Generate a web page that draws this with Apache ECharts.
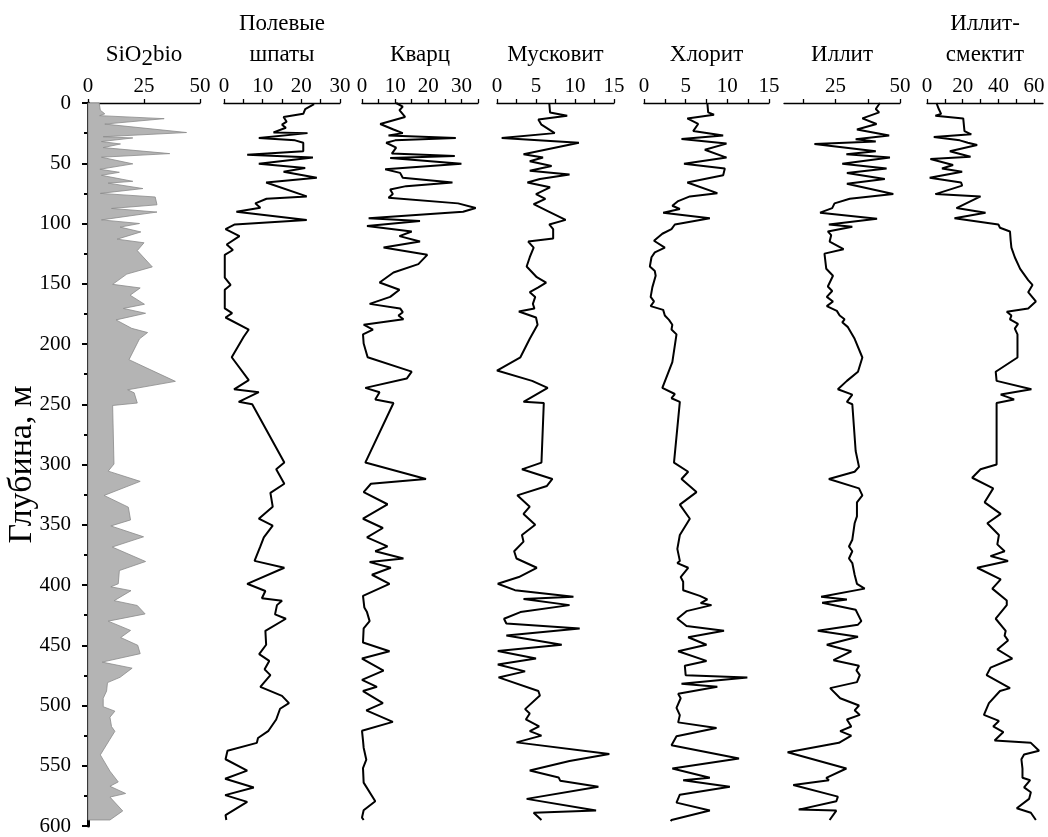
<!DOCTYPE html>
<html>
<head>
<meta charset="utf-8">
<script src="https://cdn.jsdelivr.net/npm/echarts@6/dist/echarts.min.js"></script>
<style>
  html, body { margin: 0; padding: 0; background: #fff; }
  #chart { width: 1048px; height: 837px; }
</style>
</head>
<body>
<div id="chart"></div>
<script>
// Well log: content of components vs depth, m. Each point is [value, depth].
const sio2bio = [[5,0],[5.5,6],[7.5,9],[5.2,10.5],[34,13],[7.5,17.5],[44,24.5],[6.8,28],[20,29],[6,32],[14.5,34],[6.8,37],[36.5,42],[6,45],[20,50.5],[5.3,55],[14,57.5],[6,60],[20,65],[9,66.5],[24.5,71],[5.5,75],[30,78],[30.8,84.5],[10.5,87.5],[30.8,90.5],[6,97],[23,100],[14.3,103],[23.6,107],[13,113],[25,116],[22,122.5],[28.7,136],[17.3,142],[11,150.5],[23.3,153.5],[18.8,159.5],[25.2,167],[15.8,170.5],[25.7,174.5],[12.5,180],[19.5,187],[26.6,190.5],[23,195.7],[18.3,213],[26.3,220],[39,231],[17.7,238],[20.6,240.5],[22,249],[11,251],[11.6,299.6],[9,305.5],[23.3,314],[7.2,325.7],[18,335.4],[19,346],[10.2,351],[24.8,360],[10.8,368.5],[25.7,380.5],[14,388],[13.5,399],[10.2,401.5],[19.2,404.7],[11.7,413],[22,417],[25.5,424],[9,430],[19,437.7],[14.6,443.6],[22.2,450],[23.3,457],[6.3,464],[19.7,469],[14.3,476.6],[8.7,481],[8.3,488],[6.8,494],[6.8,501],[12,504.7],[9.8,509.7],[10.5,517.5],[12,521.4],[9.8,528],[5.5,541],[9.8,554.5],[13.5,563.4],[9.8,567],[16.8,573],[9.8,576],[15.5,587.5],[9.8,595]];

const feldspar = [[23.3,1],[21,5],[20.5,9],[15.4,11.6],[16.2,15.5],[15,18],[16,20.5],[12.8,24.4],[21.6,25],[9,29],[18.4,31],[20.5,33],[20.5,40],[6,43],[23,45.3],[9,50.4],[21,54],[15.4,57],[24,62],[10.9,66],[21.4,77.5],[11,79.5],[8.1,83.3],[9.4,87],[3.2,90.3],[21.4,97],[2.8,100.8],[0.4,104.6],[4,110.5],[0.7,117.4],[2.3,122],[0.2,126],[0.2,145],[1.7,151],[0.2,155],[0.2,170.5],[2.1,174.4],[0.4,178],[6.4,188],[5.1,194],[2,211],[6.4,230],[2.6,237.6],[9,240],[3.8,248],[7.3,250],[15.6,298.4],[13.5,304],[15.6,316],[12,323.6],[12.6,335],[9,345],[12.6,350.8],[10.3,360.5],[9.4,368],[7.9,380],[15.6,385.7],[6,399],[10.7,405],[9.8,411],[15,413],[13.7,416.7],[13.2,424.4],[16,428],[10.7,438],[10.9,449.6],[9.1,457.4],[11.7,463],[10.5,470],[12,474.8],[9.4,484.5],[15,492],[16.8,498],[14.5,502.7],[13.5,511.6],[11.5,521],[8.8,527],[8.5,531],[0.9,537.6],[0.4,544.6],[6,554],[0.3,560.8],[7.7,568],[0.3,574.4],[6,580],[0.4,591],[0.6,595]];

const quartz = [[10.3,0],[12.3,3],[11.3,6],[13,11.6],[5.5,17.4],[9.5,22],[12.3,25],[8,27],[28.3,29],[10,31],[7.3,33],[10.3,37],[9,42],[28,44],[8.5,45.7],[30,50.4],[7,55],[11.5,58],[12.3,62],[27.3,66],[13.3,69],[8.5,71.7],[9.3,75.6],[8,78.7],[29,83.3],[34.3,87.2],[30.5,90.3],[2,95.7],[17.5,98],[1.5,102],[15,106.6],[11.3,110.5],[17.5,115],[6.5,120],[19.7,126],[17,133.7],[9.5,140.7],[5.3,149],[11.3,155],[8.5,160.9],[2.3,166.7],[11.5,170.5],[12.3,173.6],[11,176.4],[12.5,179.5],[0.5,184],[3.3,188],[0.3,192],[0.5,199.6],[1.7,211],[15,222.9],[13.5,228.7],[1,236.4],[5.3,240],[4,246],[9.5,249],[1,298.4],[19.3,312],[2.7,316],[0.5,322.9],[7.7,333],[0.3,345],[6.3,352.7],[1.5,360.5],[7.7,368],[4,372],[12.5,378],[2.3,381],[8.7,385.7],[3,391.5],[8.3,399],[0.3,409],[0.7,418.6],[1.5,422.5],[2.3,430],[0.5,436],[0.3,447.7],[8.3,455],[0,461],[6.5,471],[0,478.7],[4.5,484.5],[0.3,488],[6.3,498],[1.3,504],[9.3,513.6],[0,521],[0.3,529],[0.5,535],[1.3,545],[0.3,552],[0.5,564],[4,579.5],[0.5,587],[0,593],[0.5,595]];

const muscovite = [[6.7,0],[6.8,7.8],[9,10.5],[5.3,13.6],[5.7,18],[7.4,25],[0.6,29],[10.5,33],[3.4,42.6],[5.9,45.3],[4.2,48.4],[7,52.3],[4.2,56.2],[9.3,59.3],[5.5,63],[3.9,66],[6.8,70],[5,75.6],[6.2,79.5],[4.7,84],[6.7,90.3],[8.8,97],[6.7,100.8],[7.2,104.6],[7.2,112.4],[4,115],[4.7,120],[4.2,128],[3.8,135.7],[5.1,144.6],[6.3,149],[5.3,153],[4.2,157],[4.9,160.9],[4.6,166.7],[4.8,170.5],[2.8,173],[5,178],[5.2,184],[4.2,195.7],[3,211],[0,222],[4.5,230.6],[6.5,236.4],[3.4,248],[6,249],[5.7,298.4],[3.2,304],[7.1,312],[6.4,317.8],[2.6,325.6],[4.2,335],[3.4,341],[4.9,350],[3.2,358.5],[3.4,364],[2.2,372],[2.5,378],[5.1,385.7],[2.8,393.4],[0.1,399],[2.3,404.3],[9.8,409.7],[3.4,411.6],[9.3,416.7],[3,422.5],[0.9,428],[1.2,432],[10.6,436],[1.2,442],[8.3,449.6],[0.1,454.7],[5,461],[0.1,466],[3.6,471.7],[0.2,476.7],[5.3,488],[5.5,491.7],[3.6,503],[4.2,506.6],[3.7,511.6],[5.4,517.4],[4.2,521.3],[5.7,525],[2.5,530.6],[14.4,540.3],[9.3,546],[4.2,554],[7.9,559.7],[8.1,562.4],[13,567.4],[3.8,577.5],[12.7,587.2],[4.7,589],[5.7,595]];

const chlorite = [[7.6,0],[7.7,7.8],[8.4,9.7],[5.2,12.8],[6.5,17.4],[5.9,23.3],[9.5,27],[4.5,29.8],[9.9,33.7],[7.3,38.8],[9.9,45.3],[4.8,50.4],[9.7,54.3],[9.5,60],[5.2,66],[8.8,74.8],[5.5,77.5],[4.1,81.4],[3.4,85.3],[4.3,88],[2.3,91],[7.9,95.7],[3.7,100.8],[3.3,104.6],[2.2,108.5],[1.2,114.3],[2.5,120],[1.3,124],[0.9,128],[0.7,135.7],[1.3,139.5],[1.4,143.4],[1,153],[0.8,160.9],[1.2,164.7],[0.8,168.6],[2.3,171.7],[2.5,176.4],[3,180],[3.4,184],[3.3,188],[3.9,192],[3.4,215],[2.2,236.4],[3.7,241.5],[3.3,245],[4.3,248],[3.6,298.4],[5.3,306],[4.5,312],[6.3,322.9],[4.3,333.3],[5.5,345],[4.3,358.5],[4,370],[4.3,380],[4,381.8],[5.3,385.7],[4.4,393.4],[4.7,397.3],[4.7,404.3],[6.7,409],[7.6,412],[6.8,415],[8.1,416.7],[5.1,421.7],[4,428],[5.1,434],[9.6,438],[5.3,443.4],[7.5,449.6],[4.1,455],[7.5,463],[4.9,467],[5,474.8],[12.4,476.7],[4.5,482],[8.8,484.5],[4.1,490.3],[4.4,494],[3.9,502],[4.3,508],[4.1,514],[8.7,518.6],[3.9,525.6],[3.3,533],[11.4,544],[3.4,552.3],[7.9,560],[4.7,562],[10.3,567.4],[4.3,574],[3.9,580.6],[7.9,587.2],[3.3,595],[3.2,596]];

const illite = [[42.2,0],[40.6,5],[41.9,7.8],[35.4,12.8],[40.9,17.4],[33.3,22],[45.8,27],[32.8,30],[40.6,32],[16.8,34],[40.6,40],[29.2,42.6],[46.1,45.3],[27.6,50.4],[44.8,54.3],[29.4,58],[44.1,63],[29.4,67],[47.4,75.6],[30.5,79.5],[24.6,83.3],[23.7,87.2],[19,91],[41.1,96],[22.4,100.8],[31.5,102.7],[22,106.6],[23.3,109.7],[22.7,115],[28.1,121.3],[20.7,125],[21.4,137.6],[24,143.4],[22,152.3],[23.7,156],[21.6,160.9],[24,164.7],[21.6,168.6],[25.5,172.5],[26.6,176.4],[28.5,179.5],[27.6,182],[29.8,186],[32.4,195.7],[35.4,211.2],[33.7,223],[29.4,230.6],[25.9,237.6],[31.5,242],[29.4,248],[31.5,250],[32.8,288.8],[34.1,302],[32.4,306],[22.4,312],[34.1,319.8],[35.4,325.6],[33.3,331.4],[33.3,343],[32.4,348.8],[31.5,362.4],[30.2,368],[31.5,372],[30.2,378],[31.5,381.8],[32.4,391.5],[33.3,399],[36.3,403],[19.4,409.7],[29.4,412],[19.8,414.7],[32.8,420.5],[35,430],[33.7,432.9],[18.1,438],[33.7,443],[21.6,449.6],[31.1,455],[24.2,462.4],[34.1,467],[33.1,470.9],[34.4,474.8],[33.3,480.6],[22.9,485.6],[26.8,494],[34.1,500],[32.4,504],[34.4,507.8],[29.4,511.6],[31.1,517.4],[26.8,521.3],[31.1,525],[26.3,531],[6.4,538.8],[29.2,552.3],[21.4,560],[22.4,562],[8.6,566],[25.9,575.6],[25.3,579.5],[10.7,586.4],[25.3,587.2],[22.7,595]];

const illiteSmectite = [[5.3,0],[6.6,5],[7.9,9],[4.7,10.5],[20.3,12.8],[21,23.3],[24.8,26],[3.8,28.3],[18.4,31],[22.9,33],[28.1,34.9],[12.8,40],[24.4,44.6],[1.9,46.5],[14.6,51.5],[8.4,54.3],[19.7,57],[1.5,62],[19.1,66],[19.7,68.6],[4.7,75.6],[30,77.5],[16.5,87.2],[32.8,91],[15.4,95.7],[40,100.8],[40.9,103.5],[46.5,106.6],[46.9,114.3],[47.3,120],[49.2,128],[52.2,137.6],[56.7,147],[59.1,151],[56.7,157],[61,164.7],[56.7,170.5],[44.7,173.3],[47.3,176.4],[46.5,179.5],[51,183.3],[49.2,187.2],[50.7,192],[50.7,211.2],[38.5,223],[39,230.6],[58.5,237.6],[41.3,242],[48.8,246],[39,249],[39,300],[30,304],[25.3,311],[37.1,319.8],[32.3,331.4],[41.3,341],[33.8,348.8],[40.3,358.5],[39.4,366.3],[43.5,372],[35.6,376],[45.4,380],[28.1,385.7],[41.3,395.3],[36.6,403],[44.7,412.8],[44.7,416.7],[38.5,428],[44.1,438],[43.5,442],[45.4,446],[39.4,453.5],[47.8,461],[35.6,468.6],[33.4,474.8],[46.5,485.6],[40.9,488],[34.7,498],[31.9,507.8],[40.3,512.8],[37.1,517.4],[42.8,522],[37.9,529],[58.2,531],[62.8,537.6],[54.4,540.7],[52.9,544.6],[53.5,552.3],[53.5,560],[57.8,562],[54.4,568],[58.2,572],[57.2,577.5],[50.3,585.3],[58.2,589],[61,595]];

// Panel headers, scales and tick positions
const panelTitles = [['{a|SiO}{b|2}{a|bio}'], ['Полевые', 'шпаты'], ['Кварц'], ['Мусковит'], ['Хлорит'], ['Иллит'], ['Иллит-', 'смектит']];
const panelMin = [0, 0, 0, 0, 0, 5, 0];
const panelMax = [50, 30, 35, 15, 15, 50, 65];
const panelTicks = [[0, 25, 50], [0, 5, 10, 15, 20, 25, 30], [0, 5, 10, 15, 20, 25, 30, 35], [0, 2.5, 5, 7.5, 10, 12.5, 15], [0, 2.5, 5, 7.5, 10, 12.5, 15], [12.5, 25, 37.5, 50], [0, 10, 20, 30, 40, 50, 60]];
const panelLabels = [[0, 25, 50], [0, 10, 20, 30], [0, 10, 20, 30], [0, 5, 10, 15], [0, 5, 10, 15], [25, 50], [0, 20, 40, 60]];
const depthTitle = 'Глубина, м';

const lineSeries = [feldspar, quartz, muscovite, chlorite, illite, illiteSmectite];

// Panel frames (px)
const panelLeft = [88, 224, 362, 497, 644, 784, 927];
const panelWidth = [112, 116, 116, 117, 125, 116, 116];
const gridTop = 103, gridBottom = 11;
const FONT = '"Liberation Serif", "Times New Roman", serif';

const chart = echarts.init(document.getElementById('chart'), null, { renderer: 'canvas' });

const grids = [], xAxes = [], yAxes = [], series = [], graphics = [];

for (let i = 0; i < 7; i++) {
  grids.push({ left: panelLeft[i], width: panelWidth[i], top: gridTop, bottom: gridBottom });
  xAxes.push({
    type: 'value', gridIndex: i, position: 'top',
    min: panelMin[i], max: panelMax[i],
    axisLine: { show: true, onZero: false, lineStyle: { color: '#000', width: 1.3 } },
    axisTick: { show: true, inside: false, length: 4, customValues: panelTicks[i], lineStyle: { color: '#000', width: 1.3 } },
    axisLabel: { show: true, customValues: panelLabels[i], margin: 6, color: '#000', fontFamily: FONT, fontSize: 21 },
    splitLine: { show: false }
  });
  const first = i === 0;
  yAxes.push({
    type: 'value', gridIndex: i, inverse: true, min: 0, max: 600, interval: 50,
    position: 'left', offset: first ? 8 : 0,
    show: first,
    axisLine: { show: first, lineStyle: { color: '#000', width: 3 } },
    axisTick: { show: first, inside: false, length: 6, lineStyle: { color: '#000', width: 2 } },
    minorTick: { show: first, splitNumber: 2, length: 4, lineStyle: { color: '#000', width: 2 } },
    axisLabel: { show: first, margin: 9, color: '#000', fontFamily: FONT, fontSize: 21 },
    splitLine: { show: false }
  });

  // headers
  const t = panelTitles[i];
  const cx = panelLeft[i] + panelWidth[i] / 2;
  const ys = t.length === 2 ? [24, 55] : [55];
  t.forEach((line, k) => {
    graphics.push({
      type: 'text', x: cx, y: ys[k],
      style: {
        text: line, fill: '#000', font: '23px ' + FONT,
        align: 'center', verticalAlign: 'middle',
        rich: {
          a: { fontFamily: FONT, fontSize: 23, fill: '#000' },
          b: { fontFamily: FONT, fontSize: 23, fill: '#000', padding: [8, 0, 0, 0] }
        }
      }
    });
  });
}

// Biogenic silica: grey fill from zero to the curve
series.push({
  type: 'custom', xAxisIndex: 0, yAxisIndex: 0, data: [0], silent: true,
  renderItem: function (params, api) {
    const pts = [api.coord([0, sio2bio[0][1]])];
    sio2bio.forEach(p => pts.push(api.coord(p)));
    pts.push(api.coord([0, sio2bio[sio2bio.length - 1][1]]));
    return {
      type: 'polygon', shape: { points: pts },
      style: { fill: '#b4b4b4', stroke: '#8a8a8a', lineWidth: 0.8 }
    };
  }
});

lineSeries.forEach((d, j) => {
  series.push({
    type: 'line', xAxisIndex: j + 1, yAxisIndex: j + 1, data: d,
    symbol: 'none', smooth: false, silent: true,
    lineStyle: { color: '#000', width: 2 }
  });
});

graphics.push({
  type: 'text', x: 22, y: (gridTop + (837 - gridBottom)) / 2, rotation: Math.PI / 2,
  style: { text: depthTitle, fill: '#000', font: '34px ' + FONT, align: 'center', verticalAlign: 'middle' }
});

chart.setOption({
  animation: false,
  backgroundColor: '#fff',
  grid: grids, xAxis: xAxes, yAxis: yAxes, series: series,
  graphic: graphics
});
</script>
</body>
</html>
